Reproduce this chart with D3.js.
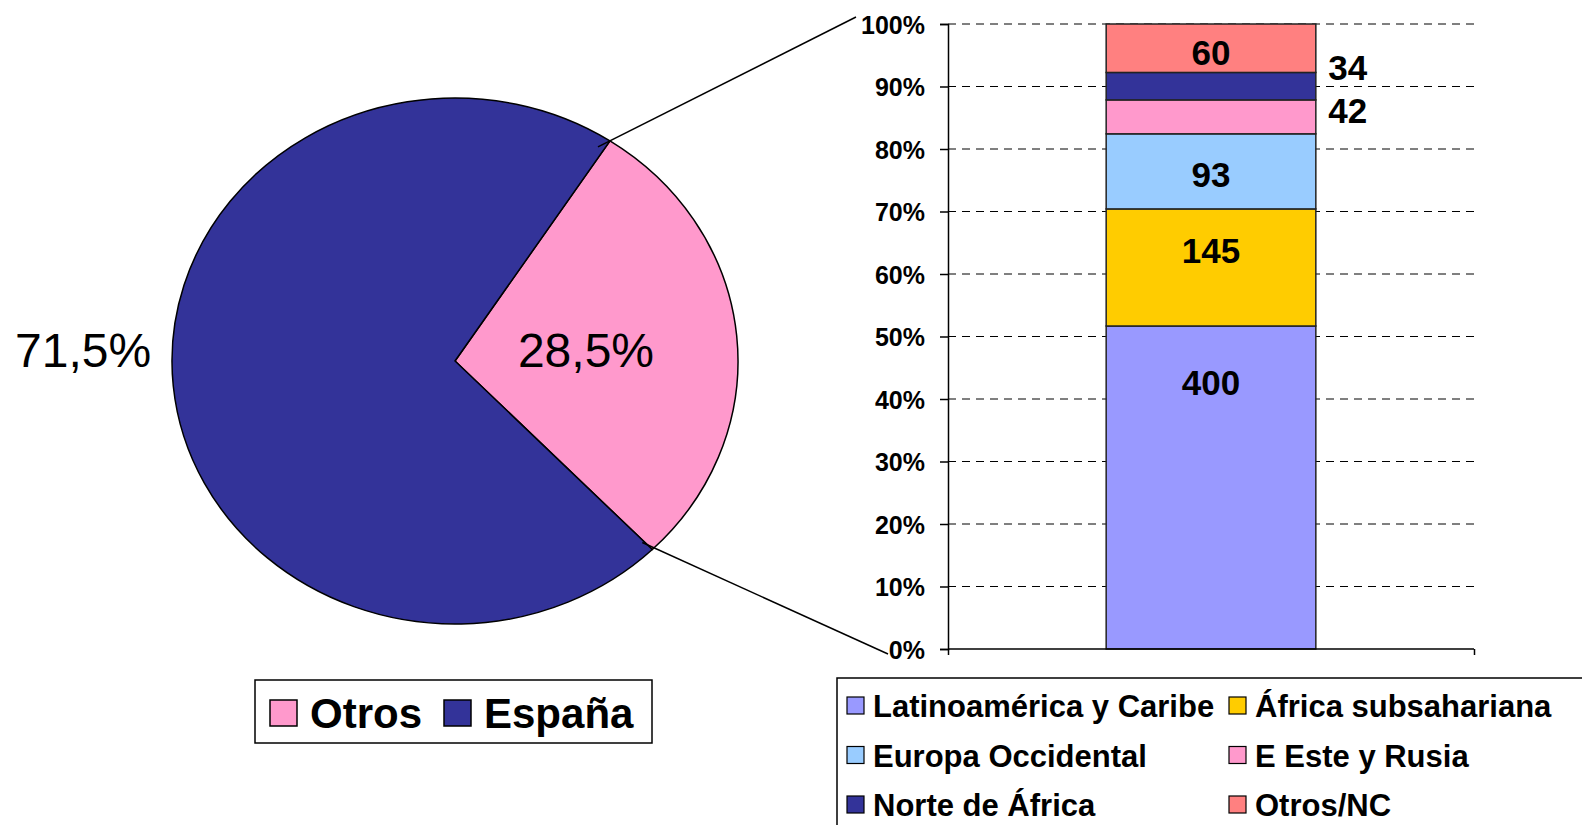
<!DOCTYPE html>
<html>
<head>
<meta charset="utf-8">
<script src="https://cdn.jsdelivr.net/npm/d3@7"></script>
<style>
  body { margin: 0; background: #fff; }
  svg { display: block; font-family: "Liberation Sans", Arial, sans-serif; }
</style>
</head>
<body>
<svg id="chart" width="1582" height="825"></svg>
<script>
// pie: origen
var pieNames = ["Otros", "España"];
var pieValues = [28.5, 71.5];
var pieLabels = ["28,5%", "71,5%"];
var pieColors = ["#FF99CC", "#333399"];

// barra: desglose de "Otros"
var regions = ["Latinoamérica y Caribe", "África subsahariana", "Europa Occidental",
               "E Este y Rusia", "Norte de África", "Otros/NC"];
var regionValues = [400, 145, 93, 42, 34, 60];
var regionColors = ["#9999FF", "#FFCC00", "#99CCFF", "#FF99CC", "#333399", "#FF8080"];
// where each number sits on the % axis
var labelAt = [42.6, 63.8, 75.9, 86.2, 93.0, 95.4];
var labelOutside = [false, false, false, true, true, false];
var yTicks = [0, 10, 20, 30, 40, 50, 60, 70, 80, 90, 100];
var legendOrder = [0, 1, 2, 3, 4, 5];

function main() {
    var svg = d3.select("#chart");

    // ---------- pie ----------
    var cx = 455, cy = 361, rx = 283, ry = 263;
    var total = d3.sum(pieValues);
    var half = Math.PI * pieValues[0] / total;
    var mid = 84.5 * Math.PI / 180;
    var pie = d3.pie().sort(null)
        .startAngle(mid - half)
        .endAngle(mid - half + 2 * Math.PI);
    var arcs = pie(pieValues);
    var arc = d3.arc().innerRadius(0).outerRadius(ry);

    var gPie = svg.append("g")
        .attr("transform", "translate(" + cx + "," + cy + ") scale(" + (rx / ry) + ",1)");
    gPie.selectAll("path")
        .data(arcs)
        .enter()
        .append("path")
        .attr("d", arc)
        .style("fill", function (d, i) { return pieColors[i]; })
        .style("stroke", "#000")
        .style("stroke-width", 1.5)
        .attr("vector-effect", "non-scaling-stroke");

    function ellPt(a, k) {
        return [cx + rx * k * Math.sin(a), cy - ry * k * Math.cos(a)];
    }

    // percent labels: one inside the small slice, one outside on the left, same height
    var labelY = ellPt((arcs[0].startAngle + arcs[0].endAngle) / 2, 0.465)[1];
    svg.selectAll("text.pl")
        .data(arcs)
        .enter()
        .append("text")
        .attr("class", "pl")
        .attr("x", function (d, i) {
            var a = (d.startAngle + d.endAngle) / 2;
            return ellPt(a, i === 0 ? 0.465 : 1.32)[0];
        })
        .attr("y", labelY)
        .attr("dy", "0.36em")
        .attr("text-anchor", "middle")
        .style("font-size", "48px")
        .text(function (d, i) { return pieLabels[i]; });

    // ---------- stacked bar ----------
    var y = d3.scaleLinear().domain([0, 100]).range([649, 24]);
    var x = d3.scaleBand().domain(["Otros"]).range([948, 1474]).padding(0.43);

    var grandTotal = d3.sum(regionValues);
    var row = {};
    regions.forEach(function (r, i) { row[r] = regionValues[i] / grandTotal * 100; });
    var series = d3.stack().keys(regions)([row]);

    // connector lines from pie slice to the bar axis
    var p1 = ellPt(arcs[0].startAngle, 1), p2 = ellPt(arcs[0].endAngle, 1);
    svg.append("line")
        .attr("x1", p1[0] - 12).attr("y1", p1[1] + 6)
        .attr("x2", 856).attr("y2", y(100) - 7)
        .style("stroke", "#000").style("stroke-width", 1.5);
    svg.append("line")
        .attr("x1", p2[0] - 10).attr("y1", p2[1] - 7)
        .attr("x2", 888).attr("y2", y(0) + 5)
        .style("stroke", "#000").style("stroke-width", 1.5);

    // gridlines
    svg.append("g")
        .selectAll("line")
        .data(yTicks.filter(function (t) { return t > 0; }))
        .enter()
        .append("line")
        .attr("x1", 948).attr("x2", 1474)
        .attr("y1", function (d) { return y(d); })
        .attr("y2", function (d) { return y(d); })
        .style("stroke", "#000")
        .style("stroke-width", 1)
        .style("stroke-dasharray", "8,6");

    // bar segments
    svg.append("g")
        .selectAll("rect")
        .data(series)
        .enter()
        .append("rect")
        .attr("x", x("Otros"))
        .attr("width", x.bandwidth())
        .attr("y", function (d) { return y(d[0][1]); })
        .attr("height", function (d) { return y(d[0][0]) - y(d[0][1]); })
        .style("fill", function (d, i) { return regionColors[i]; })
        .style("stroke", "#222")
        .style("stroke-width", 1.5);

    // value labels
    svg.append("g")
        .selectAll("text")
        .data(regionValues)
        .enter()
        .append("text")
        .attr("x", function (d, i) {
            return labelOutside[i] ? x("Otros") + x.bandwidth() + 32 : x("Otros") + x.bandwidth() / 2;
        })
        .attr("y", function (d, i) { return y(labelAt[i]); })
        .attr("dy", "0.36em")
        .attr("text-anchor", "middle")
        .style("font-size", "35px")
        .style("font-weight", "bold")
        .text(function (d) { return d; });

    // y axis
    var yAxis = d3.axisLeft(y)
        .tickValues(yTicks)
        .tickSize(8)
        .tickPadding(15)
        .tickFormat(function (d) { return d + "%"; });
    var gy = svg.append("g").attr("transform", "translate(948,0)").call(yAxis);
    gy.select(".domain").style("stroke", "#000").style("stroke-width", 1.5);
    gy.selectAll(".tick line").style("stroke", "#000").style("stroke-width", 1.5);
    gy.selectAll(".tick text")
        .style("font-family", "'Liberation Sans', Arial, sans-serif")
        .style("font-size", "25px")
        .style("font-weight", "bold")
        .style("fill", "#000")
        .attr("dy", "0.36em");

    // x axis line
    var xAxis = d3.axisBottom(d3.scaleLinear().domain([0, 1]).range([948, 1474]))
        .tickValues([0, 1]).tickSize(6).tickFormat("");
    var gx = svg.append("g").attr("transform", "translate(0," + y(0) + ")").call(xAxis);
    gx.select(".domain").style("stroke", "#000").style("stroke-width", 1.5).attr("d", "M948,0H1474");
    gx.selectAll(".tick line").style("stroke", "#000").style("stroke-width", 1.5);

    // ---------- pie legend ----------
    var gL = svg.append("g");
    gL.append("rect")
        .attr("x", 255).attr("y", 680).attr("width", 397).attr("height", 63)
        .style("fill", "#fff").style("stroke", "#000").style("stroke-width", 1.5);
    var pieLegX = [270, 444];
    pieNames.forEach(function (n, i) {
        gL.append("rect")
            .attr("x", pieLegX[i]).attr("y", 700).attr("width", 27).attr("height", 26)
            .style("fill", pieColors[i]).style("stroke", "#000").style("stroke-width", 1.5);
        gL.append("text")
            .attr("x", pieLegX[i] + 40).attr("y", 728)
            .style("font-size", "42px").style("font-weight", "bold")
            .text(n);
    });

    // ---------- bar legend ----------
    var gR = svg.append("g");
    gR.append("rect")
        .attr("x", 837).attr("y", 678).attr("width", 760).attr("height", 160)
        .style("fill", "#fff").style("stroke", "#000").style("stroke-width", 1.5);
    var colX = [847, 1229];
    var rowY = [706, 755.5, 805];
    legendOrder.forEach(function (k, j) {
        var lx = colX[j % 2], ly = rowY[Math.floor(j / 2)];
        gR.append("rect")
            .attr("x", lx).attr("y", ly - 9).attr("width", 17).attr("height", 17)
            .style("fill", regionColors[k]).style("stroke", "#000").style("stroke-width", 1.2);
        gR.append("text")
            .attr("x", lx + 26).attr("y", ly).attr("dy", "0.36em")
            .style("font-size", "31px").style("font-weight", "bold")
            .text(regions[k]);
    });
}
main();
</script>
</body>
</html>
